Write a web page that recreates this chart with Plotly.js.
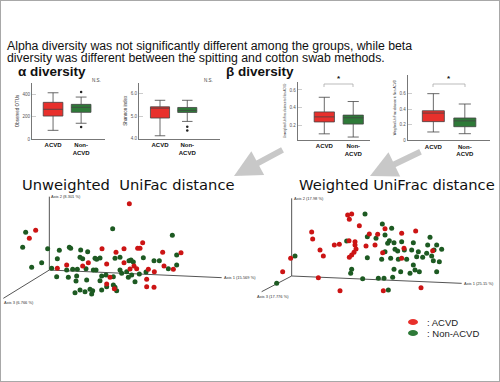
<!DOCTYPE html>
<html><head><meta charset="utf-8">
<script src="https://cdn.plot.ly/plotly-3.0.1.min.js"></script>
<style>html,body{margin:0;padding:0;background:#fff}#c{width:500px;height:382px}</style>
</head><body><div id="c"></div>
<script>
// ---- box plot data ----
const groups = ['ACVD', 'Non-ACVD'];
const groupTicks = ['ACVD', 'Non-<br>ACVD'];
const otuLow = [77, 140], otuQ1 = [204, 237], otuMed = [264, 282], otuQ3 = [326, 308], otuHigh = [411, 373];
const otuOutX = ['Non-ACVD', 'Non-ACVD'], otuOutY = [418, 107];
const shanLow = [4.13, 4.77], shanQ1 = [4.92, 5.17], shanMed = [5.36, 5.26], shanQ3 = [5.42, 5.39], shanHigh = [5.71, 5.71];
const shanOutX = ['Non-ACVD', 'Non-ACVD'], shanOutY = [4.53, 4.37];
const unwLow = [0.106, 0.07], unwQ1 = [0.24, 0.216], unwMed = [0.297, 0.287], unwQ3 = [0.353, 0.317], unwHigh = [0.518, 0.47];
const wLow = [0.107, 0.085], wQ1 = [0.24, 0.175], wMed = [0.35, 0.25], wQ3 = [0.38, 0.287], wHigh = [0.60, 0.467];

// ---- PCoA projected coordinates ----
const unwAcvdX = [2.40,-0.41,-0.60,2.80,2.72,1.58,2.00,2.24,3.40,3.95,1.17,0.52,0.24,1.72,2.24,2.42,2.54,2.62,2.97,3.44,3.72,3.15,2.92,2.92,3.14,1.95,1.72,1.82,1.00,2.65];
const unwAcvdY = [1.99,1.19,0.95,0.82,0.65,0.64,0.53,0.64,0.53,0.52,0.22,0.15,0.05,0.18,0.22,0.03,0.12,0.04,0.02,0.12,0.02,-0.05,-0.28,-0.50,-0.52,-0.56,-0.42,-0.22,0.12,0.65];
const unwNonX = [1.90,3.69,-0.71,-0.80,-0.05,0.30,0.60,0.64,0.94,1.15,1.37,-0.53,-0.23,0.24,0.92,1.00,1.42,1.52,1.97,2.12,2.39,2.45,2.52,2.82,3.14,3.30,3.82,3.82,3.57,0.07,0.22,0.57,0.82,0.80,0.52,0.70,0.84,1.10,1.32,1.57,1.70,1.92,2.12,2.17,2.32,2.47,2.70,2.90,2.37,2.57,0.92,1.07,1.22,1.30,1.57,1.72,1.92,1.97,0.77,1.27,2.02,1.52,1.12,1.40];
const unwNonY = [1.24,1.04,1.13,0.68,0.64,0.59,0.68,0.65,0.60,0.55,0.35,0.08,0.22,0.34,0.38,0.34,0.32,0.36,0.35,0.38,0.28,0.30,0.24,0.37,0.28,0.28,0.45,0.15,0.04,0.05,-0.20,-0.22,-0.18,-0.33,0.00,0.02,0.02,0.04,0.00,-0.18,-0.15,-0.20,0.00,-0.10,-0.05,-0.15,-0.12,-0.06,-0.22,-0.35,-0.60,-0.65,-0.58,-0.62,-0.60,-0.50,-0.45,-0.52,-0.68,-0.72,-0.62,-0.32,-0.30,0.00];
const wAcvdX = [1.68,1.80,1.73,0.60,0.63,0.85,0.95,1.28,1.43,1.72,1.90,1.90,1.93,1.87,1.80,1.73,2.03,2.33,2.58,2.80,3.30,3.72,2.23,2.50,2.73,3.37,3.30,4.23,-0.03,-0.27,0.80,1.45,2.75,3.88];
const wAcvdY = [1.83,1.86,1.70,1.32,1.11,0.78,0.60,0.93,0.95,1.06,1.03,0.93,0.81,0.71,0.63,0.56,1.51,1.26,1.25,1.42,1.28,1.35,0.90,0.93,0.70,0.83,0.53,0.76,0.53,0.13,-0.05,-0.44,-0.44,-0.35];
const wNonX = [2.20,2.72,3.00,2.27,2.53,1.65,2.80,2.93,2.88,3.07,3.30,3.65,4.08,4.15,4.50,4.35,2.80,3.10,3.38,3.60,3.80,4.05,4.27,2.70,2.97,3.20,3.45,3.75,3.93,4.20,4.25,4.43,2.27,1.80,1.77,2.13,2.60,2.77,3.03,3.07,3.27,3.65,3.70,3.55,3.83,4.35,0.10,-0.45,2.90,3.18];
const wNonY = [1.86,1.56,1.43,1.18,1.13,1.05,1.23,1.06,0.98,1.00,1.03,1.00,0.93,1.16,0.80,0.93,0.73,0.80,0.78,0.78,0.73,0.68,0.78,0.50,0.53,0.50,0.50,0.58,0.56,0.60,0.46,0.43,0.55,0.20,0.08,-0.08,-0.07,-0.07,-0.04,0.20,0.13,0.33,0.18,0.08,0.13,0.13,0.60,-0.22,-0.42,0.75];
// projected 3D axis end points (origin, axis2 up, axis1 right, axis3 front)
const unwAxisX = [0, 0, null, 0, 5.17, null, 0, -1.38];
const unwAxisY = [0, 2.2, null, 0, -0.23, null, 0, -0.85];
const wAxisX = [0, 0, null, 0, 5.10, null, 0, -0.90];
const wAxisY = [0, 2.33, null, 0, -0.22, null, 0, -0.47];
const unwAxisLabels = ['Axis 2 (8.301 %)', 'Axis 1 (15.569 %)', 'Axis 3 (6.766 %)'];
const wAxisLabels = ['Axis 2 (17.98 %)', 'Axis 1 (25.15 %)', 'Axis 3 (17.776 %)'];

const RED = '#e8302c', GREEN = '#2e7a38';
const DRED = '#cc1414', DGREEN = '#1d5a22';
const F = 'Liberation Sans, Arial, sans-serif';
const FW = 'DejaVu Sans, Liberation Sans, sans-serif';

function boxes(xa, ya, low, q1, med, q3, high) {
  return groups.map((g, i) => ({
    type: 'box', xaxis: xa, yaxis: ya, x: [g], q1: [q1[i]], median: [med[i]], q3: [q3[i]],
    lowerfence: [low[i]], upperfence: [high[i]], width: 0.7, whiskerwidth: 0.55,
    fillcolor: i === 0 ? RED : GREEN, line: {color: '#444', width: 0.8},
    boxpoints: false, showlegend: false, hoverinfo: 'skip'
  }));
}
function outl(xa, ya, x, y) {
  return {type: 'scatter', mode: 'markers', xaxis: xa, yaxis: ya, x: x, y: y,
    marker: {color: '#222', size: 2.5}, showlegend: false, hoverinfo: 'skip'};
}
function pts(xa, ya, x, y, c) {
  return {type: 'scatter', mode: 'markers', xaxis: xa, yaxis: ya, x: x, y: y,
    marker: {color: c, size: 5, line: {width: 0}}, showlegend: false, hoverinfo: 'skip'};
}
function axl(xa, ya, x, y) {
  return {type: 'scatter', mode: 'lines', xaxis: xa, yaxis: ya, x: x, y: y,
    line: {color: '#555', width: 1}, showlegend: false, hoverinfo: 'skip', connectgaps: false};
}

const traces = [].concat(
  boxes('x', 'y', otuLow, otuQ1, otuMed, otuQ3, otuHigh), [outl('x', 'y', otuOutX, otuOutY)],
  boxes('x2', 'y2', shanLow, shanQ1, shanMed, shanQ3, shanHigh), [outl('x2', 'y2', shanOutX, shanOutY)],
  boxes('x3', 'y3', unwLow, unwQ1, unwMed, unwQ3, unwHigh),
  boxes('x4', 'y4', wLow, wQ1, wMed, wQ3, wHigh),
  [axl('x5', 'y5', unwAxisX, unwAxisY), pts('x5', 'y5', unwNonX, unwNonY, DGREEN), pts('x5', 'y5', unwAcvdX, unwAcvdY, DRED),
   axl('x6', 'y6', wAxisX, wAxisY), pts('x6', 'y6', wNonX, wNonY, DGREEN), pts('x6', 'y6', wAcvdX, wAcvdY, DRED)]
);

function bx(dom, rng) {
  return {domain: dom, range: rng, type: 'category', categoryorder: 'array', categoryarray: groups,
    tickvals: groups, ticktext: groupTicks, showline: true, linecolor: '#777', linewidth: 1,
    ticks: '', showgrid: false, zeroline: false, fixedrange: true,
    tickfont: {family: F, size: 6, color: '#111', weight: 'bold'}};
}
function by(dom, rng, tv, tt, title, tsize) {
  return {domain: dom, range: rng, tickvals: tv, ticktext: tt, showline: true, linecolor: '#777', linewidth: 1,
    ticks: 'inside', ticklen: 4, tickcolor: '#ccc', showgrid: false, zeroline: false,
    tickfont: {family: F, size: 4.5, color: '#555'},
    title: {text: title, font: {family: F, size: tsize, color: '#333'}, standoff: 3}};
}
function hid(dom, rng) {
  return {domain: dom, range: rng, visible: false, showgrid: false, zeroline: false, fixedrange: true};
}

const P = (px) => px / 500, Q = (py) => 1 - py / 382;

const ann = [];
function txt(x, y, t, size, opts) {
  ann.push(Object.assign({xref: 'paper', yref: 'paper', x: x, y: y, text: t, showarrow: false,
    font: {family: F, size: size, color: '#111'}, xanchor: 'left', yanchor: 'middle'}, opts || {}));
}
txt(P(5), Q(46), 'Alpha diversity was not significantly different among the groups, while beta', 12.3);
txt(P(5), Q(57.5), 'diversity was different between the spitting and cotton swab methods.', 12.3);
txt(P(16), Q(72), '<b>α diversity</b>', 13.5);
txt(P(224), Q(72), '<b>β diversity</b>', 13.5);
txt(P(103), Q(80), 'N.S.', 4.5, {xanchor: 'right', font: {family: F, size: 4.5, color: '#444'}});
txt(P(215), Q(80), 'N.S.', 4.5, {xanchor: 'right', font: {family: F, size: 4.5, color: '#444'}});
txt(P(339), Q(78), '<b>*</b>', 8, {xanchor: 'center'});
txt(P(449), Q(78), '<b>*</b>', 8, {xanchor: 'center'});
txt(P(128.5), Q(184), 'Unweighted&nbsp;&nbsp;UniFac distance', 14.7, {xanchor: 'center', font: {family: FW, size: 14.7, color: '#111'}});
txt(P(397), Q(184.5), 'Weighted UniFrac distance', 14.7, {xanchor: 'center', font: {family: FW, size: 14.7, color: '#111'}});
txt(P(425), Q(322), ': ACVD', 9.5, {font: {family: F, size: 9.5, color: '#222'}});
txt(P(425), Q(333), ': Non-ACVD', 9.5, {font: {family: F, size: 9.5, color: '#222'}});

// axis labels of the 3D-projected plots, anchored at their axis ends
function axLab(xa, ya, ax, ay, labels, dx3) {
  const ends = [[ax[1], ay[1], 'left', 'middle'], [ax[4], ay[4], 'left', 'middle'], [ax[7] + dx3, ay[7], 'left', 'top']];
  ends.forEach((e, i) => ann.push({xref: xa, yref: ya, x: e[0], y: e[1], text: labels[i], showarrow: false,
    xanchor: e[2], yanchor: e[3], font: {family: F, size: 4, color: '#333'}}));
}
axLab('x5', 'y5', unwAxisX, unwAxisY, unwAxisLabels, -0.05);
axLab('x6', 'y6', wAxisX, wAxisY, wAxisLabels, -0.2);

// big grey arrows
function arrow(tx, ty, sx, sy) {
  ann.push({xref: 'paper', yref: 'paper', x: P(tx), y: Q(ty), ax: sx - tx, ay: sy - ty, axref: 'pixel', ayref: 'pixel',
    text: '', showarrow: true, arrowhead: 2, arrowsize: 0.9, arrowwidth: 6, arrowcolor: '#c8c8c8', standoff: 0});
}
arrow(234, 176, 284, 149);
arrow(370, 176, 422, 151);

const shapes = [
  {type: 'rect', xref: 'paper', yref: 'paper', x0: 0, y0: 0, x1: 1, y1: 1, line: {color: '#a8a8a8', width: 2}},
  // significance brackets
  {type: 'path', xref: 'paper', yref: 'paper', path: `M${P(324)},${Q(87)} L${P(324)},${Q(84)} L${P(353)},${Q(84)} L${P(353)},${Q(87)}`, line: {color: '#aaa', width: 0.8}},
  {type: 'path', xref: 'paper', yref: 'paper', path: `M${P(433)},${Q(87)} L${P(433)},${Q(84)} L${P(465)},${Q(84)} L${P(465)},${Q(87)}`, line: {color: '#aaa', width: 0.8}},
  // legend markers
  {type: 'circle', xref: 'paper', yref: 'paper', x0: P(408), x1: P(418), y0: Q(325), y1: Q(319), fillcolor: RED, line: {width: 0}},
  {type: 'circle', xref: 'paper', yref: 'paper', x0: P(408), x1: P(418), y0: Q(336), y1: Q(330), fillcolor: GREEN, line: {width: 0}}
];

const layout = {
  width: 500, height: 382, margin: {l: 0, r: 0, t: 0, b: 0}, paper_bgcolor: '#fff', plot_bgcolor: 'rgba(0,0,0,0)',
  showlegend: false, boxmode: 'overlay',
  xaxis: bx([P(32), P(105)], [-0.75, 1.85]), yaxis: by([Q(139), Q(83)], [0, 498], [0, 200, 400], ['0', '200', '400'], 'Observed OTUs', 4.5),
  xaxis2: bx([P(139), P(220)], [-0.77, 2.2]), yaxis2: by([Q(138.7), Q(83)], [4.0, 6.48], [4, 5, 6], ['4.0', '5.0', '6.0'], 'Shannon index', 4.5),
  xaxis3: bx([P(297.7), P(370)], [-0.92, 1.58]), yaxis3: by([Q(139.7), Q(82)], [0.04, 0.69], [0.2, 0.4, 0.6], ['0.2', '0.4', '0.6'], 'Unweighted UniFrac distance to Non-ACVD', 2.8),
  xaxis4: bx([P(407.7), P(490)], [-0.815, 1.8]), yaxis4: by([Q(140.3), Q(75)], [0, 0.84], [0, 0.2, 0.4, 0.6], ['0', '0.2', '0.4', '0.6'], 'Weighted UniFrac distance to Non-ACVD', 3),
  xaxis5: hid([0, 0.5], [-1.48, 6.02]), yaxis5: hid([Q(310), Q(170)], [-1.2, 3.0]),
  xaxis6: hid([0.5, 1.0], [-1.25, 6.25]), yaxis6: hid([Q(310), Q(170)], [-1.02, 3.18]),
  annotations: ann, shapes: shapes
};
['yaxis', 'yaxis2', 'yaxis3', 'yaxis4'].forEach((k, i) => { layout[k].anchor = ['x', 'x2', 'x3', 'x4'][i]; layout[k].fixedrange = true; });
['xaxis', 'xaxis2', 'xaxis3', 'xaxis4'].forEach((k, i) => { layout[k].anchor = ['y', 'y2', 'y3', 'y4'][i]; });
layout.xaxis5.anchor = 'y5'; layout.yaxis5.anchor = 'x5';
layout.xaxis6.anchor = 'y6'; layout.yaxis6.anchor = 'x6';

Plotly.newPlot('c', traces, layout, {staticPlot: true, displayModeBar: false});
</script></body></html>
